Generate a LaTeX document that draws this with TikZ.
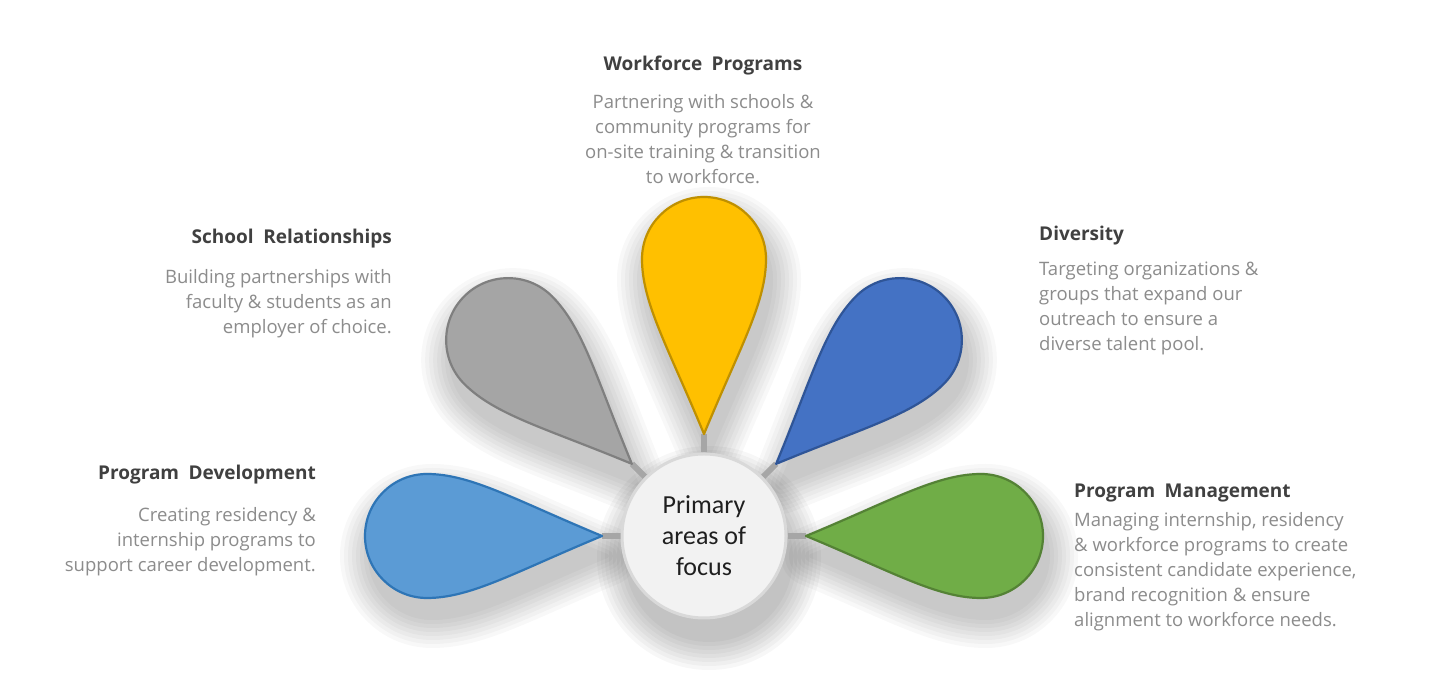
\documentclass[tikz,border=0pt]{standalone}
\usepackage{fontspec}
\setmainfont{Open Sans}
\newfontfamily\centerfont{Carlito}
\usetikzlibrary{calc}
\definecolor{titlegray}{HTML}{404040}
\definecolor{bodygray}{HTML}{8C8C8C}
\definecolor{stemgray}{HTML}{A6A6A6}
\definecolor{ringfill}{HTML}{F2F2F2}
\definecolor{ringdraw}{HTML}{D9D9D9}
\definecolor{lbluefill}{HTML}{5B9BD5}
\definecolor{lbluedraw}{HTML}{2E75B6}
\definecolor{grayfill}{HTML}{A5A5A5}
\definecolor{graydraw}{HTML}{7F7F7F}
\definecolor{yellowfill}{HTML}{FFC000}
\definecolor{yellowdraw}{HTML}{BF9000}
\definecolor{dbluefill}{HTML}{4472C4}
\definecolor{dbluedraw}{HTML}{2F5597}
\definecolor{greenfill}{HTML}{70AD47}
\definecolor{greendraw}{HTML}{548235}
\pgfdeclarelayer{bg}
\pgfdeclarelayer{fg}
\pgfsetlayers{bg,main,fg}
% path of one petal: #1 name prefix, #2 angle
\newcommand\petalpath[2]{(#1tip)
    .. controls ($(#1tip)+(#2:87)+(#2+90:36)$) and ($(#1end)+(#2+180:44)+(#2+90:62)$)
    .. ($(#1end)+(#2+90:62)$)
    arc[start angle=#2+90, delta angle=-180, radius=62pt]
    .. controls ($(#1end)+(#2+180:44)+(#2-90:62)$) and ($(#1tip)+(#2:87)+(#2-90:36)$)
    .. (#1tip) -- cycle}
\newcommand\drawpetal[4]{%
  \coordinate (#1tip) at ($(c.center)+(#2:102)$);
  \coordinate (#1end) at ($(c.center)+(#2:277)$);
  \begin{pgfonlayer}{bg}
    \begin{scope}[transform canvas={xshift=5pt,yshift=-20pt}]
      \foreach \w in {60,52,44,36,28,20,12,4}{
        \begin{scope}[transparency group, opacity=0.028]
          \path[softshadow, line width=\w pt] \petalpath{#1}{#2};
        \end{scope}}
    \end{scope}
  \end{pgfonlayer}
  \draw[stem] (c.#2) -- (#1tip);
  \path[petal, fill=#3, draw=#4] \petalpath{#1}{#2};
}
\begin{document}
\begin{tikzpicture}[x=1pt,y=1pt,
  title/.style={font=\fontsize{19}{23}\selectfont\bfseries, text=titlegray, inner sep=0pt},
  body/.style={font=\fontsize{18.5}{25}\selectfont, text=bodygray, inner sep=0pt},
  stem/.style={draw=stemgray, line width=6pt},
  petal/.style={line width=2.2pt, line join=round},
  softshadow/.style={fill=black, draw=black, line join=round},
  hub/.style={circle, minimum size=164pt, inner sep=0pt, fill=ringfill, draw=ringdraw, line width=3pt,
    font=\centerfont\fontsize{26}{31}\selectfont, text=black!88, align=center},
]
\useasboundingbox (0,0) rectangle (1440,700);
\begin{pgfonlayer}{bg}
  \fill[white] (0,0) rectangle (1440,700);
\end{pgfonlayer}

\begin{pgfonlayer}{fg}
  \node[hub] (c) at (704,164) {Primary\\areas of\\focus};
\end{pgfonlayer}
\begin{pgfonlayer}{bg}
  \begin{scope}[transform canvas={xshift=5pt,yshift=-22pt}]
    \foreach \w in {64,56,48,40,32,24,16,8}{
      \begin{scope}[transparency group, opacity=0.03]
        \path[softshadow, line width=\w pt] (c.center) circle[radius=80pt];
      \end{scope}}
  \end{scope}
\end{pgfonlayer}

\drawpetal{pd}{180}{lbluefill}{lbluedraw}
\drawpetal{sr}{135}{grayfill}{graydraw}
\drawpetal{wp}{90}{yellowfill}{yellowdraw}
\drawpetal{dv}{45}{dbluefill}{dbluedraw}
\drawpetal{pm}{0}{greenfill}{greendraw}

% Workforce Programs
\node[title, anchor=base] (wpt) at (703,629) {Workforce\enspace Programs};
\node[body, anchor=north, align=center] (wpb) at (703,606)
  {Partnering with schools \&\\community programs for\\on-site training \& transition\\to workforce.};
% School Relationships
\node[title, anchor=base east] (srt) at (392,456) {School\enspace Relationships};
\node[body, anchor=north east, align=right] (srb) at (392,431)
  {Building partnerships with\\faculty \& students as an\\employer of choice.};
% Diversity
\node[title, anchor=base west] (dvt) at (1039,459) {Diversity};
\node[body, anchor=north west, align=left] (dvb) at (1039,438)
  {Targeting organizations \&\\groups that expand our\\outreach to ensure a\\diverse talent pool.};
% Program Development
\node[title, anchor=base east] (pdt) at (316,220) {Program\enspace Development};
\node[body, anchor=north east, align=right] (pdb) at (316,193)
  {Creating residency \&\\internship programs to\\support career development.};
% Program Management
\node[title, anchor=base west] (pmt) at (1074,202) {Program\enspace Management};
\node[body, anchor=north west, align=left] (pmb) at (1074,188)
  {Managing internship, residency\\\& workforce programs to create\\consistent candidate experience,\\brand recognition \& ensure\\alignment to workforce needs.};
\end{tikzpicture}
\end{document}
